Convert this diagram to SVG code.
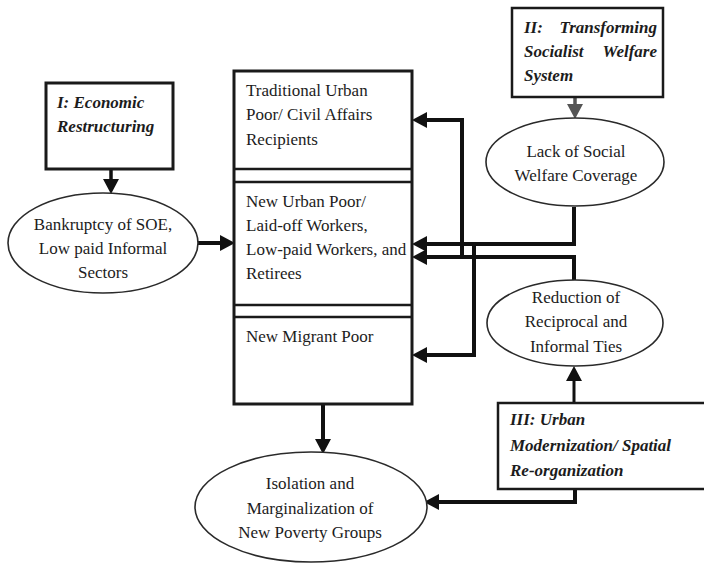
<svg xmlns="http://www.w3.org/2000/svg" width="704" height="564" viewBox="0 0 704 564">
<defs>
<style>
text{font-family:"Liberation Serif","Times New Roman",serif;font-size:17px;fill:#1c1c1c}
.bi{font-weight:bold;font-style:italic}
.c{text-anchor:middle}
.box{fill:#fff;stroke:#1a1a1a;stroke-width:3}
.ell{fill:#fff;stroke:#2a2a2a;stroke-width:1.6}
.div{stroke:#1a1a1a;stroke-width:2.5}
.con{fill:none;stroke:#111;stroke-width:4;stroke-linejoin:miter}
</style>
<marker id="ah" markerUnits="userSpaceOnUse" markerWidth="15" markerHeight="16" refX="0" refY="8" orient="auto" viewBox="0 0 15 16">
<path d="M0,0 L15,8 L0,16 z" fill="#111"/>
</marker>
<marker id="ahg" markerUnits="userSpaceOnUse" markerWidth="15" markerHeight="16" refX="0" refY="8" orient="auto" viewBox="0 0 15 16">
<path d="M0,0 L15,8 L0,16 z" fill="#555"/>
</marker>
</defs>

<g id="connectors">
<path class="con" style="stroke-width:3.5" d="M111,169 V179" marker-end="url(#ah)"/>
<path class="con" d="M197,243 H220" marker-end="url(#ah)"/>
<path class="con" style="stroke:#555;stroke-width:3.5" d="M575,97 V104" marker-end="url(#ahg)"/>
<path class="con" d="M574,207 V244 H427" marker-end="url(#ah)"/>
<path class="con" d="M574,280 V257 H427" marker-end="url(#ah)"/>
<path class="con" d="M462,257 V120 H427" marker-end="url(#ah)"/>
<path class="con" d="M474,244 V355 H427" marker-end="url(#ah)"/>
<path class="con" style="stroke-width:3" d="M574,403 V381" marker-end="url(#ah)"/>
<path class="con" d="M323,404 V439" marker-end="url(#ah)"/>
<path class="con" d="M575,489 V502 H439" marker-end="url(#ah)"/>
</g>

<g id="main-box">
<rect class="box" x="234" y="71" width="178" height="333"/>
<line class="div" x1="234" y1="169" x2="412" y2="169"/>
<line class="div" x1="234" y1="182" x2="412" y2="182"/>
<line class="div" x1="234" y1="305" x2="412" y2="305"/>
<line class="div" x1="234" y1="317" x2="412" y2="317"/>
</g>
<g id="traditional">
<text x="246" y="96">Traditional Urban</text>
<text x="246" y="120">Poor/ Civil Affairs</text>
<text x="246" y="145">Recipients</text>
</g>
<g id="new-urban-poor">
<text x="246" y="207">New Urban Poor/</text>
<text x="246" y="231">Laid-off Workers,</text>
<text x="246" y="255">Low-paid Workers, and</text>
<text x="246" y="279">Retirees</text>
</g>
<g id="new-migrant-poor">
<text x="246" y="342">New Migrant Poor</text>
</g>

<g id="factor-1">
<rect class="box" x="46" y="83" width="127" height="86"/>
<text class="bi" x="57" y="108">I: Economic</text>
<text class="bi" x="57" y="132">Restructuring</text>
</g>

<g id="bankruptcy">
<ellipse class="ell" cx="103" cy="243" rx="95" ry="50"/>
<text class="c" x="103" y="230">Bankruptcy of SOE,</text>
<text class="c" x="103" y="254">Low paid Informal</text>
<text class="c" x="103" y="278">Sectors</text>
</g>

<g id="factor-2">
<rect class="box" style="stroke-width:2.5" x="512" y="8" width="151" height="89"/>
<text class="bi" x="524" y="33">II:</text>
<text class="bi" x="657" y="33" text-anchor="end">Transforming</text>
<text class="bi" x="524" y="57">Socialist</text>
<text class="bi" x="657" y="57" text-anchor="end">Welfare</text>
<text class="bi" x="524" y="81">System</text>
</g>

<g id="lack-welfare">
<ellipse class="ell" cx="575" cy="162" rx="89" ry="44"/>
<text class="c" x="576" y="157">Lack of Social</text>
<text class="c" x="576" y="181">Welfare Coverage</text>
</g>

<g id="reduction-ties">
<ellipse class="ell" cx="575" cy="323" rx="88" ry="43"/>
<text class="c" x="576" y="303">Reduction of</text>
<text class="c" x="576" y="327">Reciprocal and</text>
<text class="c" x="576" y="352">Informal Ties</text>
</g>

<g id="factor-3">
<rect class="box" style="stroke-width:2.5" x="498" y="403" width="212" height="86"/>
<text class="bi" x="510" y="425">III: Urban</text>
<text class="bi" x="510" y="451">Modernization/ Spatial</text>
<text class="bi" x="510" y="476">Re-organization</text>
</g>

<g id="isolation">
<ellipse class="ell" cx="311" cy="507" rx="116" ry="55"/>
<text class="c" x="310" y="489">Isolation and</text>
<text class="c" x="310" y="514">Marginalization of</text>
<text class="c" x="310" y="538">New Poverty Groups</text>
</g>
</svg>
